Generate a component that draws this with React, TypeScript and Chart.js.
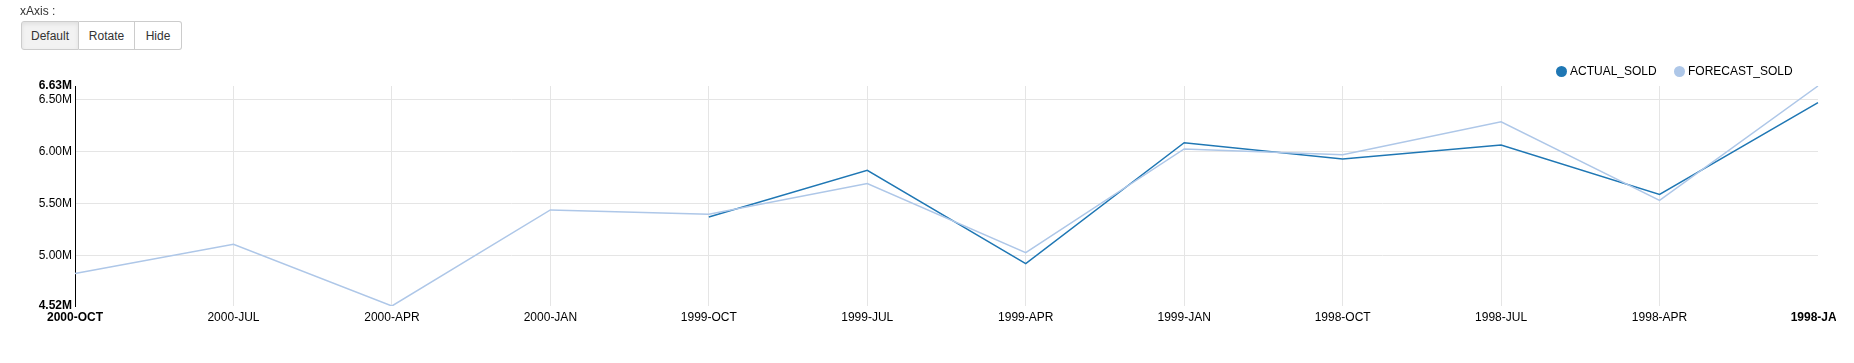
import React, { useEffect, useRef } from "react";
import { Chart, registerables } from "chart.js";

Chart.register(...registerables);

const categories = [
  "2000-OCT", "2000-JUL", "2000-APR", "2000-JAN",
  "1999-OCT", "1999-JUL", "1999-APR", "1999-JAN",
  "1998-OCT", "1998-JUL", "1998-APR", "1998-JAN",
];
const actualSold = [null, null, null, null, 5374000, 5822000, 4927000, 6086000, 5930000, 6064000, 5590000, 6470000];
const forecastSold = [4831000, 5111000, 4520000, 5441000, 5400000, 5695000, 5031000, 6026000, 5971000, 6286000, 5533000, 6630000];
const yTickValues = [4520000, 5000000, 5500000, 6000000, 6500000, 6630000];
const buttonLabels = ["Default", "Rotate", "Hide"];

const ACTUAL_COLOR = "#1f77b4";
const FORECAST_COLOR = "#aec7e8";
const FONT = "Arial, 'Liberation Sans', sans-serif";

export default function App() {
  const canvasRef = useRef<HTMLCanvasElement | null>(null);

  useEffect(() => {
    const canvas = canvasRef.current;
    if (!canvas) return;
    const lastX = categories.length - 1;
    const lastY = yTickValues.length - 1;
    const chart = new Chart(canvas, {
      type: "line",
      data: {
        labels: categories,
        datasets: [
          {
            label: "ACTUAL_SOLD",
            data: actualSold,
            borderColor: ACTUAL_COLOR,
            backgroundColor: ACTUAL_COLOR,
            borderWidth: 1.5,
            pointRadius: 0,
            tension: 0,
            spanGaps: false,
            order: 2,
          },
          {
            label: "FORECAST_SOLD",
            data: forecastSold,
            borderColor: FORECAST_COLOR,
            backgroundColor: FORECAST_COLOR,
            borderWidth: 1.5,
            pointRadius: 0,
            tension: 0,
            order: 1,
          },
        ],
      },
      options: {
        responsive: false,
        animation: false,
        devicePixelRatio: 1,
        layout: { padding: { top: 86, right: 36, bottom: 0, left: 0 } },
        plugins: {
          legend: { display: false },
          tooltip: { enabled: false },
        },
        scales: {
          x: {
            offset: false,
            border: { display: false },
            grid: {
              drawTicks: false,
              color: (ctx: any) => (ctx.index === lastX ? "rgba(0,0,0,0)" : "#e5e5e5"),
              lineWidth: 1,
            },
            ticks: {
              autoSkip: false,
              maxRotation: 0,
              minRotation: 0,
              padding: 4,
              color: "#000",
              font: (ctx: any) =>
                ctx.index === 0 || ctx.index === lastX
                  ? { family: FONT, size: 12, weight: "bold" }
                  : { family: FONT, size: 12, weight: "normal" },
            },
            afterFit: (scale: any) => {
              scale.height = 57;
            },
          },
          y: {
            min: yTickValues[0],
            max: yTickValues[lastY],
            border: { display: true, color: "#000", width: 1 },
            grid: {
              drawTicks: false,
              color: (ctx: any) =>
                ctx.index === 0 || ctx.index === lastY ? "rgba(0,0,0,0)" : "#e5e5e5",
            },
            afterBuildTicks: (scale: any) => {
              scale.ticks = yTickValues.map((v) => ({ value: v }));
            },
            ticks: {
              padding: 3,
              color: "#000",
              callback: (v: any) => (Number(v) / 1e6).toFixed(2) + "M",
              font: (ctx: any) =>
                ctx.index === 0 || ctx.index === lastY
                  ? { family: FONT, size: 12, weight: "bold" }
                  : { family: FONT, size: 12, weight: "normal" },
            },
            afterFit: (scale: any) => {
              scale.width = 75;
            },
          },
        },
      },
    });
    return () => chart.destroy();
  }, []);

  const legendItems = [
    { label: "ACTUAL_SOLD", color: ACTUAL_COLOR, cx: 1562 },
    { label: "FORECAST_SOLD", color: FORECAST_COLOR, cx: 1680 },
  ];

  return (
    <div style={{ position: "absolute", left: 0, top: 0, width: 1854, height: 363, background: "#fff", fontFamily: FONT }}>
      <div style={{ position: "absolute", left: 0, top: 0, width: 1836, height: 363, overflow: "hidden" }}>
        <canvas ref={canvasRef} width={1854} height={363} style={{ width: 1854, height: 363, display: "block" }} />
      </div>
      <div style={{ position: "absolute", left: 20, top: 4, fontSize: 12, color: "#333", lineHeight: "14px" }}>xAxis :</div>
      <div style={{ position: "absolute", left: 21, top: 21, display: "flex", height: 29 }}>
        {buttonLabels.map((b, i) => (
          <div
            key={b}
            style={{
              width: [58, 56, 47][i],
              height: 29,
              boxSizing: "border-box",
              border: "1px solid #ccc",
              borderLeft: i === 0 ? "1px solid #ccc" : "none",
              borderRadius: i === 0 ? "3px 0 0 3px" : i === 2 ? "0 3px 3px 0" : 0,
              background: i === 0 ? "#f2f2f2" : "#fff",
              boxShadow: i === 0 ? "inset 0 2px 4px rgba(0,0,0,0.08)" : "none",
              fontSize: 12,
              color: "#333",
              display: "flex",
              alignItems: "center",
              justifyContent: "center",
            }}
          >
            {b}
          </div>
        ))}
      </div>
      {legendItems.map((it) => (
        <div key={it.label} style={{ position: "absolute", left: it.cx - 6, top: 64, height: 14, display: "flex", alignItems: "center" }}>
          <span style={{ width: 11, height: 11, borderRadius: "50%", background: it.color, display: "inline-block", marginRight: 3 }} />
          <span style={{ fontSize: 12, color: "#000", lineHeight: "14px" }}>{it.label}</span>
        </div>
      ))}
    </div>
  );
}
